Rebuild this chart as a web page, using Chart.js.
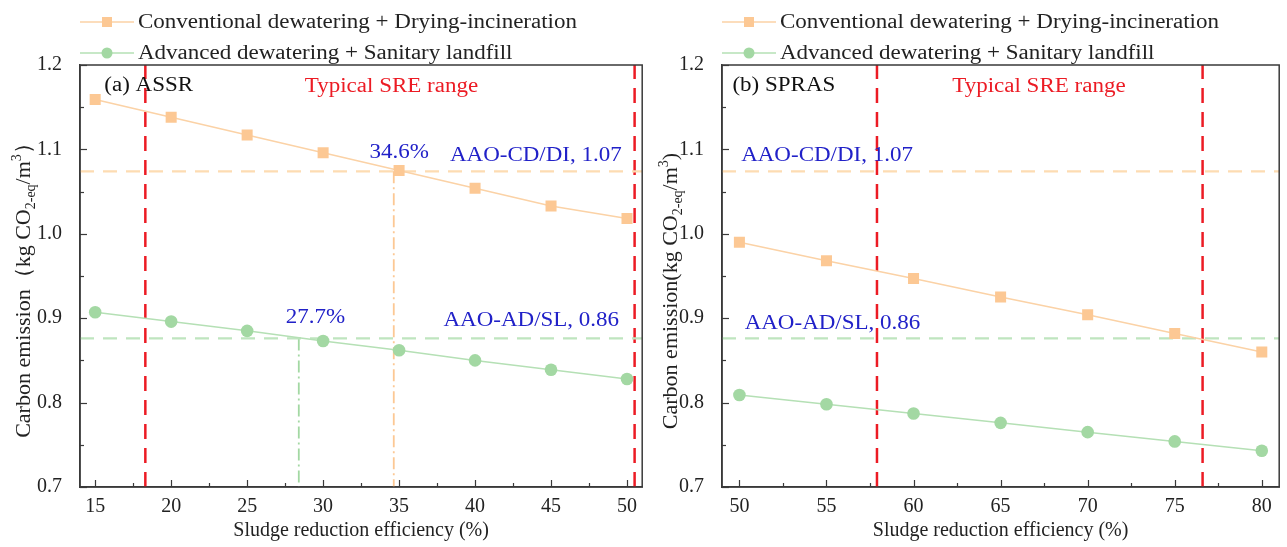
<!DOCTYPE html>
<html>
<head>
<meta charset="utf-8">
<script src="https://cdn.jsdelivr.net/npm/chart.js@4.4.0/dist/chart.umd.min.js"></script>
<style>
  body { margin: 0; background: #fff; }
  #wrap { position: relative; width: 1287px; height: 547px; }
  canvas { position: absolute; top: 0; }
</style>
</head>
<body>
<div id="wrap">
  <canvas id="chartA" width="650" height="547" style="left:0"></canvas>
  <canvas id="chartB" width="637" height="547" style="left:650px"></canvas>
</div>
<script>
"use strict";

// data
const sreA = [15, 20, 25, 30, 35, 40, 45, 50];
const cdA = [1.159, 1.138, 1.117, 1.096, 1.075, 1.054, 1.033, 1.018];
const adA = [0.907, 0.896, 0.885, 0.873, 0.862, 0.850, 0.839, 0.828];

const sreB = [50, 55, 60, 65, 70, 75, 80];
const cdB = [0.990, 0.968, 0.947, 0.925, 0.904, 0.882, 0.860];
const adB = [0.809, 0.798, 0.787, 0.776, 0.765, 0.754, 0.743];

const baseCD = 1.074;   // AAO-CD/DI
const baseAD = 0.876;   // AAO-AD/SL
const rangeA = [18.3, 50.5];
const rangeB = [57.9, 76.6];
const crossA = [34.65, 28.4];   // CD/DI, AD/SL break-even

const ticksA = [15, 17.5, 20, 22.5, 25, 27.5, 30, 32.5, 35, 37.5, 40, 42.5, 45, 47.5, 50];
const ticksB = [50, 52.5, 55, 57.5, 60, 62.5, 65, 67.5, 70, 72.5, 75, 77.5, 80];
const ticksY = [0.7, 0.75, 0.8, 0.85, 0.9, 0.95, 1.0, 1.05, 1.1, 1.15, 1.2];

const seriesNames = ["Conventional dewatering + Drying-incineration", "Advanced dewatering + Sanitary landfill"];

const SERIF = "'Liberation Serif', 'Times New Roman', serif";
const ORANGE_LINE = "#fbd2a6";
const ORANGE_MARK = "#fcc894";
const ORANGE_DASH = "#fddcb2";
const GREEN_LINE = "#b5e0b5";
const GREEN_MARK = "#a3d8a3";
const GREEN_DASH = "#bfe5bf";
const RED = "#ec1b24";
const BLUE = "#2121c8";
const AXIS = "#3a3a3a";
const STRETCH = 1.15;   // the original figure is a bit wider than tall

function xy(xs, ys) {
  return xs.map((x, i) => ({ x: x, y: ys[i] }));
}

function refLine(points, color, dash, width) {
  return { data: points, borderColor: color, borderDash: dash, borderWidth: width,
           pointRadius: 0, fill: false, tension: 0 };
}

function wideText(ctx, text, x, y, size, color, align) {
  ctx.save();
  ctx.font = size + "px " + SERIF;
  ctx.fillStyle = color;
  ctx.textAlign = align;
  ctx.textBaseline = "middle";
  ctx.translate(x, y);
  ctx.scale(STRETCH, 1);
  ctx.fillText(text, 0, 0);
  ctx.restore();
}

function drawYTitle(ctx, cx, cy, parts) {
  ctx.save();
  let total = 0;
  parts.forEach(p => {
    ctx.font = p.size + "px " + SERIF;
    p.w = ctx.measureText(p.t).width;
    total += p.w;
  });
  ctx.translate(cx, cy);
  ctx.rotate(-Math.PI / 2);
  let x = -total / 2;
  ctx.fillStyle = "#222";
  ctx.textBaseline = "alphabetic";
  parts.forEach(p => {
    ctx.font = p.size + "px " + SERIF;
    ctx.fillText(p.t, x, 7 + (p.dy || 0));
    x += p.w;
  });
  ctx.restore();
}

function makePanel(id, cfg) {
  const decor = {
    id: "decor" + id,
    afterDraw(chart) {
      const ctx = chart.ctx;
      const a = chart.chartArea;
      const xs = chart.scales.x, ys = chart.scales.y;
      ctx.save();
      // frame
      ctx.strokeStyle = AXIS;
      ctx.lineWidth = 1.5;
      ctx.strokeRect(a.left, a.top, a.right - a.left, a.bottom - a.top);
      // inward ticks
      ctx.lineWidth = 1.2;
      cfg.xticks.forEach(v => {
        const px = Math.round(xs.getPixelForValue(v)) + 0.5;
        const len = v % 5 === 0 ? 7 : 4;
        ctx.beginPath(); ctx.moveTo(px, a.bottom); ctx.lineTo(px, a.bottom - len); ctx.stroke();
      });
      ticksY.forEach(v => {
        const py = Math.round(ys.getPixelForValue(v)) + 0.5;
        const major = Math.abs(v * 10 - Math.round(v * 10)) < 1e-6;
        ctx.beginPath(); ctx.moveTo(a.left, py); ctx.lineTo(a.left + (major ? 7 : 4), py); ctx.stroke();
      });
      ctx.restore();
      // annotations
      cfg.notes.forEach(n => {
        wideText(ctx, n.text, xs.getPixelForValue(n.x), ys.getPixelForValue(n.y), 20, n.color, n.align);
      });
      // legend above the plot
      const lx = cfg.legendX;
      [[ORANGE_LINE, ORANGE_MARK, "rect"], [GREEN_LINE, GREEN_MARK, "circle"]].forEach((s, i) => {
        const ly = 22 + i * 31;
        ctx.save();
        ctx.strokeStyle = s[0];
        ctx.lineWidth = 1.5;
        ctx.beginPath(); ctx.moveTo(lx, ly); ctx.lineTo(lx + 54, ly); ctx.stroke();
        ctx.fillStyle = s[1];
        if (s[2] === "rect") {
          ctx.fillRect(lx + 22, ly - 5, 10, 10);
        } else {
          ctx.beginPath(); ctx.arc(lx + 27, ly, 5.5, 0, Math.PI * 2); ctx.fill();
        }
        ctx.restore();
        wideText(ctx, seriesNames[i], lx + 58, ly + 1, 20, "#222", "left");
      });
      drawYTitle(ctx, cfg.titleX, cfg.titleY, cfg.yTitle);
    }
  };

  return new Chart(document.getElementById(id), {
    type: "line",
    data: {
      datasets: [
        { data: xy(cfg.sre, cfg.cd), borderColor: ORANGE_LINE, backgroundColor: ORANGE_MARK,
          borderWidth: 1.5, pointStyle: "rect", pointRadius: 7.8, pointBorderWidth: 0, tension: 0 },
        { data: xy(cfg.sre, cfg.ad), borderColor: GREEN_LINE, backgroundColor: GREEN_MARK,
          borderWidth: 1.5, pointStyle: "circle", pointRadius: 6.3, pointBorderWidth: 0, tension: 0 },
        refLine([{ x: cfg.min, y: baseCD }, { x: cfg.max, y: baseCD }], ORANGE_DASH, [14, 9], 2.2),
        refLine([{ x: cfg.min, y: baseAD }, { x: cfg.max, y: baseAD }], GREEN_DASH, [14, 9], 2.2)
      ].concat(cfg.range.map(v => refLine([{ x: v, y: 0.7 }, { x: v, y: 1.2 }], RED, [15, 9], 2.5)))
       .concat(cfg.extra)
    },
    options: {
      responsive: false,
      animation: false,
      devicePixelRatio: 1,
      layout: { padding: { top: 65, right: cfg.padRight, left: 0, bottom: 0 } },
      plugins: { legend: { display: false }, tooltip: { enabled: false } },
      scales: {
        x: {
          type: "linear", min: cfg.min, max: cfg.max,
          afterBuildTicks: s => { s.ticks = cfg.xticks.map(v => ({ value: v })); },
          afterFit: s => { s.height = 60; },
          grid: { display: false },
          border: { color: AXIS, width: 1.5 },
          ticks: { autoSkip: false, maxRotation: 0, padding: 0, color: "#222",
                   font: { family: SERIF, size: 20 },
                   callback: v => (v % 5 === 0 ? String(v) : "") },
          title: { display: true, text: "Sludge reduction efficiency (%)", color: "#222",
                   font: { family: SERIF, size: 20 }, padding: { top: 0, bottom: 4 } }
        },
        y: {
          min: 0.7, max: 1.2,
          afterBuildTicks: s => { s.ticks = ticksY.map(v => ({ value: v })); },
          afterFit: s => { s.width = cfg.yWidth; },
          grid: { display: false },
          border: { color: AXIS, width: 1.5 },
          ticks: { padding: 10, color: "#222", font: { family: SERIF, size: 20 },
                   callback: v => (Math.abs(v * 10 - Math.round(v * 10)) < 1e-6 ? v.toFixed(1) : "") }
        }
      }
    },
    plugins: [decor]
  });
}

makePanel("chartA", {
  sre: sreA, cd: cdA, ad: adA, min: 14, max: 51, xticks: ticksA, range: rangeA,
  padRight: 6, yWidth: 80, legendX: 80, titleX: 23, titleY: 285,
  extra: [
    refLine([{ x: crossA[0], y: baseCD }, { x: crossA[0], y: 0.7 }], ORANGE_MARK, [12, 4, 2, 4], 1.8),
    refLine([{ x: crossA[1], y: baseAD }, { x: crossA[1], y: 0.7 }], GREEN_MARK, [12, 4, 2, 4], 1.8)
  ],
  yTitle: [{ t: "Carbon emission（kg CO", size: 22 }, { t: "2-eq", size: 14, dy: 5 },
           { t: "/m", size: 22 }, { t: "3", size: 14, dy: -9 }, { t: "）", size: 22 }],
  notes: [
    { text: "(a) ASSR", x: 15.6, y: 1.176, color: "#111", align: "left" },
    { text: "Typical SRE range", x: 34.5, y: 1.174, color: RED, align: "center" },
    { text: "34.6%", x: 35.0, y: 1.096, color: BLUE, align: "center" },
    { text: "AAO-CD/DI, 1.07", x: 44.0, y: 1.093, color: BLUE, align: "center" },
    { text: "27.7%", x: 29.5, y: 0.900, color: BLUE, align: "center" },
    { text: "AAO-AD/SL, 0.86", x: 43.7, y: 0.897, color: BLUE, align: "center" }
  ]
});

makePanel("chartB", {
  sre: sreB, cd: cdB, ad: adB, min: 49, max: 81, xticks: ticksB, range: rangeB,
  padRight: 2, yWidth: 72, legendX: 72, titleX: 20, titleY: 291,
  extra: [],
  yTitle: [{ t: "Carbon emission(kg CO", size: 22 }, { t: "2-eq", size: 14, dy: 5 },
           { t: "/m", size: 22 }, { t: "3", size: 14, dy: -9 }, { t: ")", size: 22 }],
  notes: [
    { text: "(b) SPRAS", x: 49.6, y: 1.176, color: "#111", align: "left" },
    { text: "Typical SRE range", x: 67.2, y: 1.174, color: RED, align: "center" },
    { text: "AAO-CD/DI, 1.07", x: 50.1, y: 1.092, color: BLUE, align: "left" },
    { text: "AAO-AD/SL, 0.86", x: 50.3, y: 0.893, color: BLUE, align: "left" }
  ]
});
</script>
</body>
</html>
